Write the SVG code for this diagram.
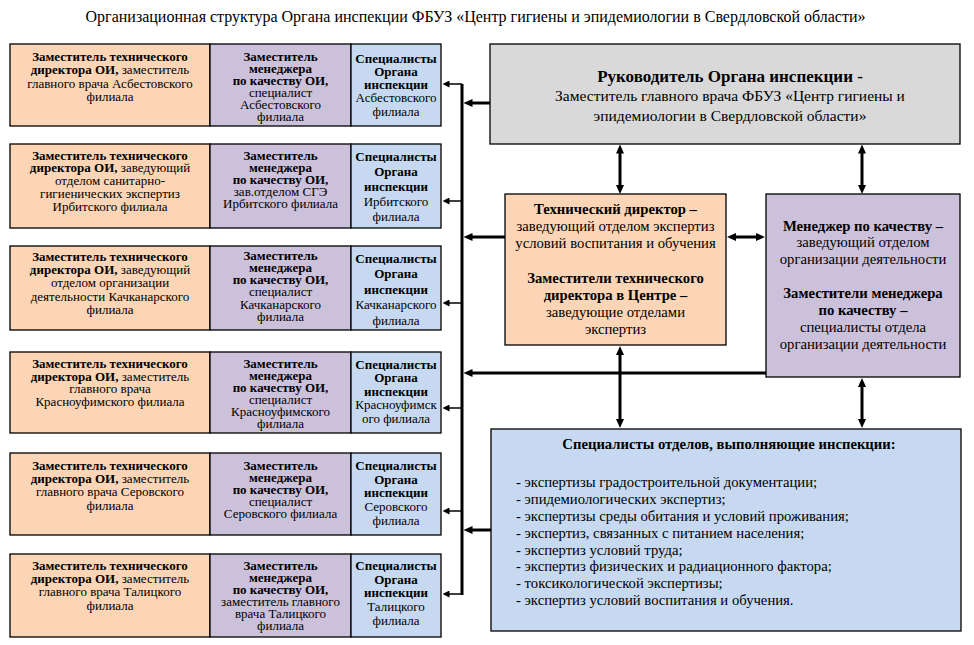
<svg xmlns="http://www.w3.org/2000/svg" width="974" height="645" viewBox="0 0 974 645">
<style>
text{font-family:"Liberation Serif","Times New Roman",serif;fill:#000;}
.t{font-size:13px;text-anchor:middle;}
.m{font-size:14.7px;text-anchor:middle;}
.l{font-size:14.7px;}
.b{font-weight:bold;}
.box{stroke:#000;stroke-width:1.3;}
.or{fill:#fbd5b5;}
.pu{fill:#ccc1da;}
.bl{fill:#c6d9f1;}
.gr{fill:#d9d9d9;}
.thick{stroke:#000;stroke-width:3;fill:none;}
.thin{stroke:#000;stroke-width:1.5;fill:none;}
</style>
<defs>
<marker id="a" viewBox="0 0 9 8" markerWidth="9" markerHeight="8" refX="0.5" refY="4" markerUnits="userSpaceOnUse" orient="auto-start-reverse">
<path d="M0,0 L9,4 L0,8 z" fill="#000"/>
</marker>
<marker id="s" viewBox="0 0 7 7" markerWidth="7" markerHeight="7" refX="0.5" refY="3.5" markerUnits="userSpaceOnUse" orient="auto">
<path d="M0,0 L7,3.5 L0,7 z" fill="#000"/>
</marker>
</defs>
<rect width="974" height="645" fill="#fff"/>
<text x="475.5" y="22" style="font-size:16px;text-anchor:middle">Организационная структура Органа инспекции ФБУЗ «Центр гигиены и эпидемиологии в Свердловской области»</text>

<g id="connectors">
<path class="thick" d="M462,84 V595"/>
<path class="thin" d="M462,84 H449" marker-end="url(#s)"/>
<path class="thin" d="M462,201 H449" marker-end="url(#s)"/>
<path class="thin" d="M462,303 H449" marker-end="url(#s)"/>
<path class="thin" d="M462,408 H449" marker-end="url(#s)"/>
<path class="thin" d="M462,511 H449" marker-end="url(#s)"/>
<path class="thin" d="M463,594 H449" marker-end="url(#s)"/>
<path class="thick" d="M490,103 H472" marker-end="url(#a)"/>
<path class="thick" d="M505,237 H472" marker-end="url(#a)"/>
<path class="thick" d="M766,373 H472" marker-end="url(#a)"/>
<path class="thick" d="M491,530 H472" marker-end="url(#a)"/>
<path class="thick" d="M620,153 V185.5" marker-start="url(#a)" marker-end="url(#a)"/>
<path class="thick" d="M862,153 V185.5" marker-start="url(#a)" marker-end="url(#a)"/>
<path class="thick" d="M735.5,237 H756.5" marker-start="url(#a)" marker-end="url(#a)"/>
<path class="thick" d="M620,354.5 V419.5" marker-start="url(#a)" marker-end="url(#a)"/>
<path class="thick" d="M862,386.5 V419.5" marker-start="url(#a)" marker-end="url(#a)"/>
</g>

<g id="head">
<rect class="box gr" x="490" y="44" width="470" height="100"/>
<text class="m"><tspan x="730" y="82" class="b" style="font-size:17px">Руководитель Органа инспекции -</tspan><tspan x="730" y="101" style="font-size:15.5px">Заместитель главного врача ФБУЗ «Центр гигиены и</tspan><tspan x="730" y="121" style="font-size:15.5px">эпидемиологии в Свердловской области»</tspan></text>
</g>

<g id="tech">
<rect class="box or" x="505" y="194" width="221" height="151"/>
<text class="m"><tspan x="615.5" y="214" class="b">Технический директор –</tspan><tspan x="615.5" y="231">заведующий отделом экспертиз</tspan><tspan x="615.5" y="248">условий воспитания и обучения</tspan><tspan x="615.5" y="283" class="b">Заместители технического</tspan><tspan x="615.5" y="300" class="b">директора в Центре –</tspan><tspan x="615.5" y="317">заведующие отделами</tspan><tspan x="615.5" y="334">экспертиз</tspan></text>
</g>

<g id="manager">
<rect class="box pu" x="766" y="194" width="194" height="183"/>
<text class="m"><tspan x="863" y="231" class="b">Менеджер по качеству –</tspan><tspan x="863" y="247">заведующий отделом</tspan><tspan x="863" y="264">организации деятельности</tspan><tspan x="863" y="298" class="b">Заместители менеджера</tspan><tspan x="863" y="315" class="b">по качеству –</tspan><tspan x="863" y="332">специалисты отдела</tspan><tspan x="863" y="349">организации деятельности</tspan></text>
</g>

<g id="specialists">
<rect class="box bl" x="491" y="429" width="470" height="202"/>
<text class="m b" x="729" y="449">Специалисты отделов, выполняющие инспекции:</text>
<text class="l"><tspan x="516" y="487">- экспертизы градостроительной документации;</tspan><tspan x="516" y="504">- эпидемиологических экспертиз;</tspan><tspan x="516" y="521">- экспертизы среды обитания и условий проживания;</tspan><tspan x="516" y="538">- экспертиз, связанных с питанием населения;</tspan><tspan x="516" y="555">- экспертиз условий труда;</tspan><tspan x="516" y="571">- экспертиз физических и радиационного фактора;</tspan><tspan x="516" y="588">- токсикологической экспертизы;</tspan><tspan x="516" y="605">- экспертиз условий воспитания и обучения.</tspan></text>
</g>

<g id="row1">
<rect class="box or" x="10" y="44" width="200" height="82"/>
<rect class="box pu" x="210" y="44" width="141" height="82"/>
<rect class="box bl" x="351" y="44" width="90" height="82"/>
<text class="t"><tspan x="110" y="61" class="b">Заместитель технического</tspan><tspan x="110" y="74.3"><tspan class="b">директора ОИ,</tspan> заместитель</tspan><tspan x="110" y="87.6">главного врача Асбестовского</tspan><tspan x="110" y="101">филиала</tspan></text>
<text class="t"><tspan x="280.5" y="61" class="b">Заместитель</tspan><tspan x="280.5" y="73" class="b">менеджера</tspan><tspan x="280.5" y="85" class="b">по качеству ОИ,</tspan><tspan x="280.5" y="97">специалист</tspan><tspan x="280.5" y="109">Асбестовского</tspan><tspan x="280.5" y="121">филиала</tspan></text>
<text class="t"><tspan x="396" y="62.8" class="b">Специалисты</tspan><tspan x="396" y="76" class="b">Органа</tspan><tspan x="396" y="89.2" class="b">инспекции</tspan><tspan x="396" y="102.4">Асбестовского</tspan><tspan x="396" y="115.5">филиала</tspan></text>
</g>

<g id="row2">
<rect class="box or" x="10" y="144" width="200" height="84"/>
<rect class="box pu" x="210" y="144" width="141" height="84"/>
<rect class="box bl" x="351" y="144" width="90" height="84"/>
<text class="t"><tspan x="110" y="159.5" class="b">Заместитель технического</tspan><tspan x="110" y="172.4"><tspan class="b">директора ОИ,</tspan> заведующий</tspan><tspan x="110" y="185.3">отделом санитарно-</tspan><tspan x="110" y="198.1">гигиенических экспертиз</tspan><tspan x="110" y="211">Ирбитского филиала</tspan></text>
<text class="t"><tspan x="280.5" y="159.5" class="b">Заместитель</tspan><tspan x="280.5" y="171.6" class="b">менеджера</tspan><tspan x="280.5" y="183.7" class="b">по качеству ОИ,</tspan><tspan x="280.5" y="195.9">зав.отделом СГЭ</tspan><tspan x="280.5" y="208">Ирбитского филиала</tspan></text>
<text class="t"><tspan x="396" y="161" class="b">Специалисты</tspan><tspan x="396" y="176" class="b">Органа</tspan><tspan x="396" y="191" class="b">инспекции</tspan><tspan x="396" y="206">Ирбитского</tspan><tspan x="396" y="221">филиала</tspan></text>
</g>

<g id="row3">
<rect class="box or" x="10" y="246" width="200" height="84"/>
<rect class="box pu" x="210" y="246" width="141" height="84"/>
<rect class="box bl" x="351" y="246" width="90" height="84"/>
<text class="t"><tspan x="110" y="260.5" class="b">Заместитель технического</tspan><tspan x="110" y="273.9"><tspan class="b">директора ОИ,</tspan> заведующий</tspan><tspan x="110" y="287.3">отделом организации</tspan><tspan x="110" y="300.6">деятельности Качканарского</tspan><tspan x="110" y="314">филиала</tspan></text>
<text class="t"><tspan x="280.5" y="259.5" class="b">Заместитель</tspan><tspan x="280.5" y="271.8" class="b">менеджера</tspan><tspan x="280.5" y="284.1" class="b">по качеству ОИ,</tspan><tspan x="280.5" y="296.4">специалист</tspan><tspan x="280.5" y="308.7">Качканарского</tspan><tspan x="280.5" y="321">филиала</tspan></text>
<text class="t"><tspan x="396" y="263" class="b">Специалисты</tspan><tspan x="396" y="278.4" class="b">Органа</tspan><tspan x="396" y="293.8" class="b">инспекции</tspan><tspan x="396" y="309.1">Качканарского</tspan><tspan x="396" y="324.5">филиала</tspan></text>
</g>

<g id="row4">
<rect class="box or" x="10" y="352" width="200" height="81"/>
<rect class="box pu" x="210" y="352" width="141" height="81"/>
<rect class="box bl" x="351" y="352" width="90" height="81"/>
<text class="t"><tspan x="110" y="368" class="b">Заместитель технического</tspan><tspan x="110" y="380.7"><tspan class="b">директора ОИ,</tspan> заместитель</tspan><tspan x="110" y="393.3">главного врача</tspan><tspan x="110" y="406">Красноуфимского филиала</tspan></text>
<text class="t"><tspan x="280.5" y="368" class="b">Заместитель</tspan><tspan x="280.5" y="380" class="b">менеджера</tspan><tspan x="280.5" y="392" class="b">по качеству ОИ,</tspan><tspan x="280.5" y="404">специалист</tspan><tspan x="280.5" y="416">Красноуфимского</tspan><tspan x="280.5" y="428">филиала</tspan></text>
<text class="t"><tspan x="396" y="368.5" class="b">Специалисты</tspan><tspan x="396" y="382.1" class="b">Органа</tspan><tspan x="396" y="395.8" class="b">инспекции</tspan><tspan x="396" y="409.4">Красноуфимск</tspan><tspan x="396" y="423">ого филиала</tspan></text>
</g>

<g id="row5">
<rect class="box or" x="10" y="453" width="200" height="82"/>
<rect class="box pu" x="210" y="453" width="141" height="82"/>
<rect class="box bl" x="351" y="453" width="90" height="82"/>
<text class="t"><tspan x="110" y="469.5" class="b">Заместитель технического</tspan><tspan x="110" y="482.8"><tspan class="b">директора ОИ,</tspan> заместитель</tspan><tspan x="110" y="496.2">главного врача Серовского</tspan><tspan x="110" y="509.5">филиала</tspan></text>
<text class="t"><tspan x="280.5" y="469.5" class="b">Заместитель</tspan><tspan x="280.5" y="481.6" class="b">менеджера</tspan><tspan x="280.5" y="493.8" class="b">по качеству ОИ,</tspan><tspan x="280.5" y="505.9">специалист</tspan><tspan x="280.5" y="518">Серовского филиала</tspan></text>
<text class="t"><tspan x="396" y="470" class="b">Специалисты</tspan><tspan x="396" y="483.6" class="b">Органа</tspan><tspan x="396" y="497.3" class="b">инспекции</tspan><tspan x="396" y="510.9">Серовского</tspan><tspan x="396" y="524.5">филиала</tspan></text>
</g>

<g id="row6">
<rect class="box or" x="10" y="554" width="200" height="83"/>
<rect class="box pu" x="210" y="554" width="141" height="83"/>
<rect class="box bl" x="351" y="554" width="90" height="83"/>
<text class="t"><tspan x="110" y="569.5" class="b">Заместитель технического</tspan><tspan x="110" y="582.8"><tspan class="b">директора ОИ,</tspan> заместитель</tspan><tspan x="110" y="596.2">главного врача Талицкого</tspan><tspan x="110" y="609.5">филиала</tspan></text>
<text class="t"><tspan x="280.5" y="569.5" class="b">Заместитель</tspan><tspan x="280.5" y="581.5" class="b">менеджера</tspan><tspan x="280.5" y="593.5" class="b">по качеству ОИ,</tspan><tspan x="280.5" y="605.5">заместитель главного</tspan><tspan x="280.5" y="617.5">врача Талицкого</tspan><tspan x="280.5" y="629.5">филиала</tspan></text>
<text class="t"><tspan x="396" y="570" class="b">Специалисты</tspan><tspan x="396" y="583.6" class="b">Органа</tspan><tspan x="396" y="597.3" class="b">инспекции</tspan><tspan x="396" y="610.9">Талицкого</tspan><tspan x="396" y="624.5">филиала</tspan></text>
</g>
</svg>
